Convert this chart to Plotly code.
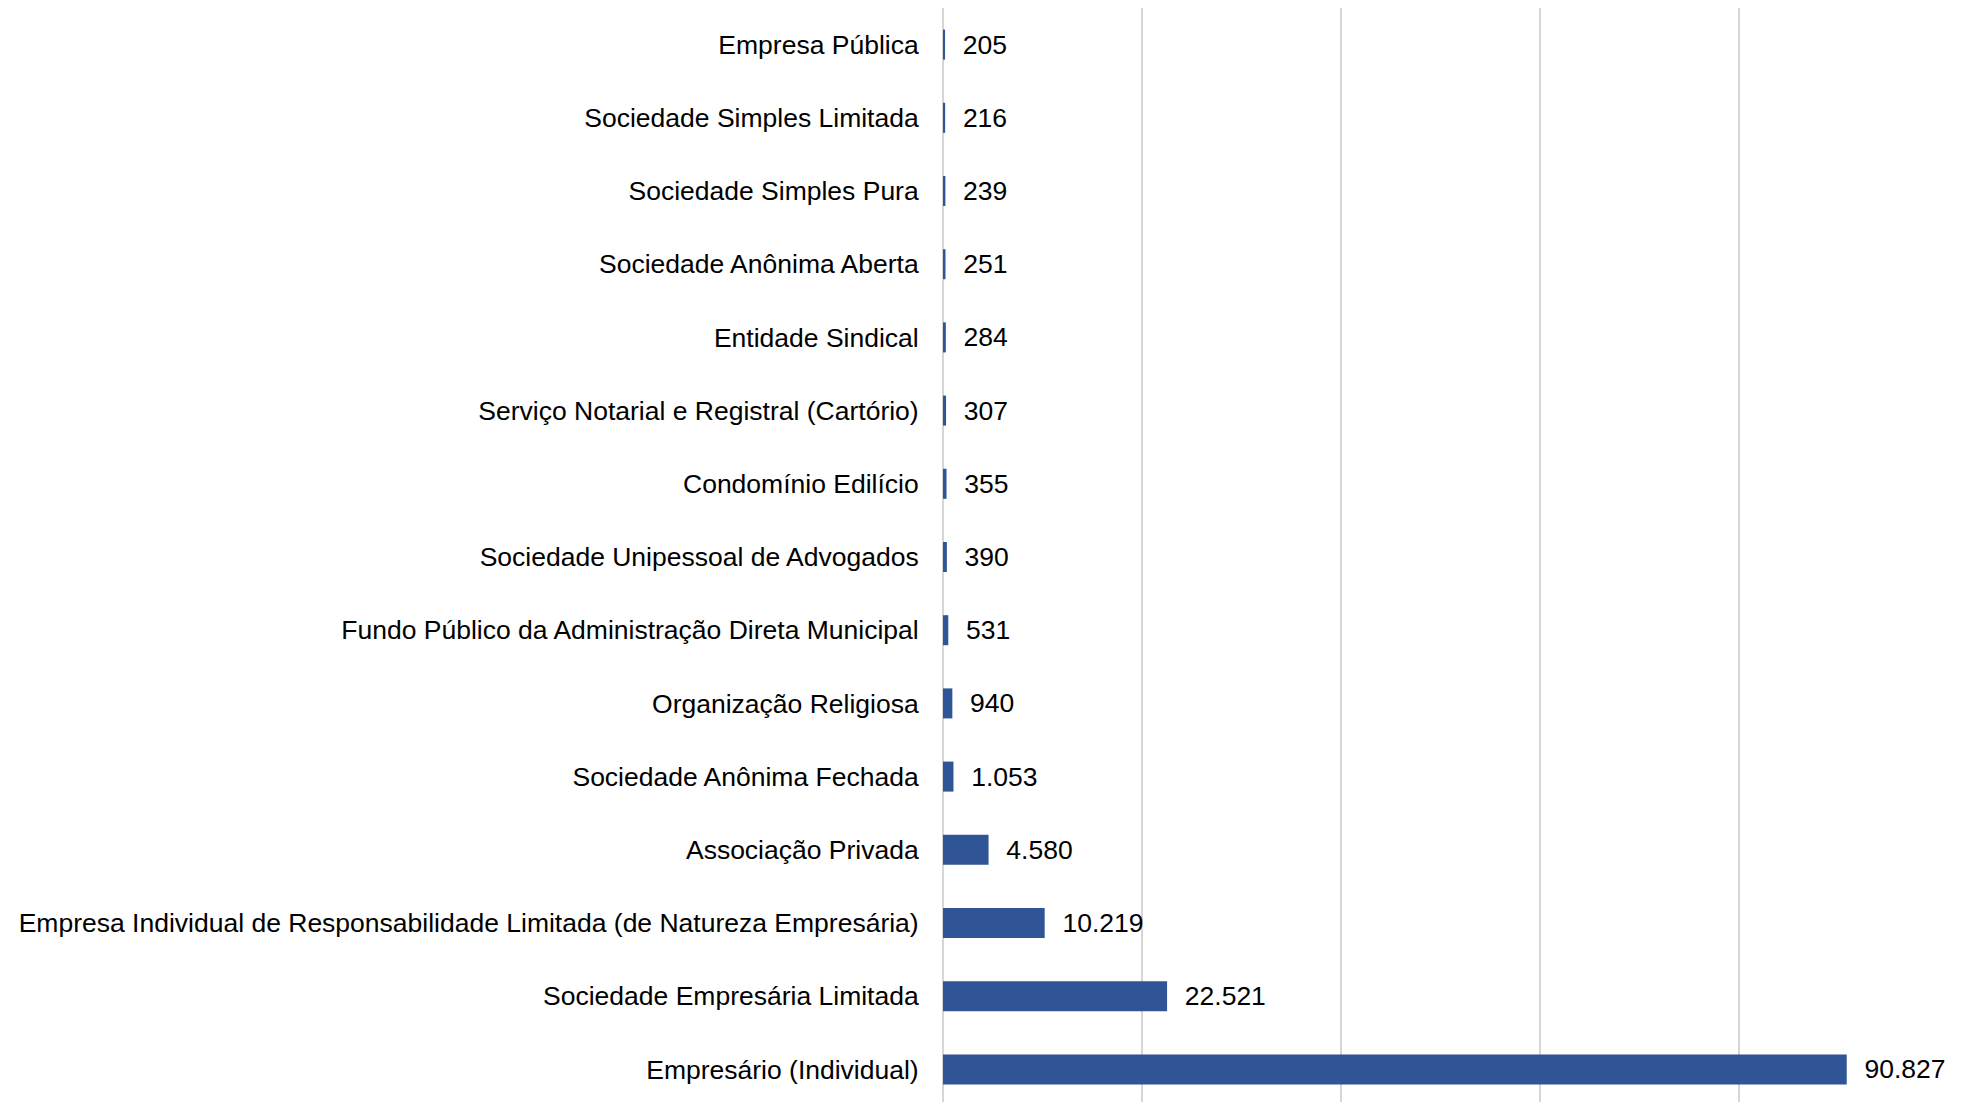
import plotly.graph_objects as go

categories = [
    "Empresa Pública",
    "Sociedade Simples Limitada",
    "Sociedade Simples Pura",
    "Sociedade Anônima Aberta",
    "Entidade Sindical",
    "Serviço Notarial e Registral (Cartório)",
    "Condomínio Edilício",
    "Sociedade Unipessoal de Advogados",
    "Fundo Público da Administração Direta Municipal",
    "Organização Religiosa",
    "Sociedade Anônima Fechada",
    "Associação Privada",
    "Empresa Individual de Responsabilidade Limitada (de Natureza Empresária)",
    "Sociedade Empresária Limitada",
    "Empresário (Individual)",
]
values = [205, 216, 239, 251, 284, 307, 355, 390, 531, 940, 1053, 4580, 10219, 22521, 90827]

FONT = "Liberation Sans, Arial, sans-serif"

fig = go.Figure()
fig.add_trace(go.Bar(
    x=values,
    y=categories,
    orientation="h",
    marker=dict(color="#2F5597", line=dict(width=0)),
    texttemplate="  %{x:,}",
    textposition="outside",
    textfont=dict(family=FONT, size=26.5, color="#000000"),
    cliponaxis=False,
    width=0.41,
))

fig.update_layout(
    width=1963,
    height=1102,
    separators=",.",
    paper_bgcolor="white",
    plot_bgcolor="white",
    showlegend=False,
    margin=dict(l=935, r=33, t=0, b=4, autoexpand=False),
    font=dict(family=FONT, size=26.5, color="#000000"),
    xaxis=dict(
        range=[0, 100000],
        dtick=20000,
        showgrid=True,
        gridcolor="#d6d6d6",
        gridwidth=2,
        showticklabels=False,
        zeroline=True,
        zerolinecolor="#d6d6d6",
        zerolinewidth=2,
        fixedrange=True,
    ),
    yaxis=dict(
        autorange="reversed",
        showgrid=False,
        ticks="outside",
        ticklen=0,
        ticklabelstandoff=18,
        tickfont=dict(family=FONT, size=26.5, color="#000000"),
        automargin=False,
    ),
)

fig.write_html("out.html")
